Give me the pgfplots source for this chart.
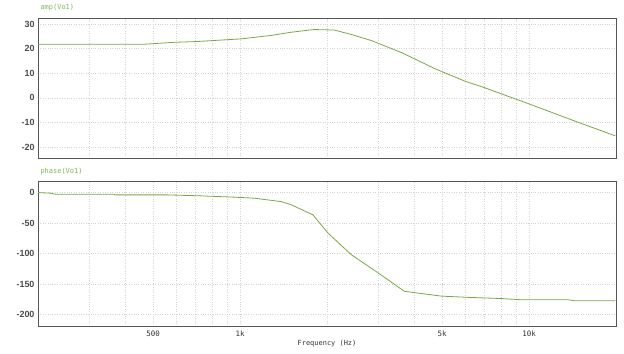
\documentclass[border=0pt]{standalone}
\usepackage{pgfplots}
\pgfplotsset{compat=1.18}
\usepackage{fontspec}
\setmainfont{Liberation Sans}
\setmonofont{DejaVu Sans Mono}
\definecolor{curve}{RGB}{120,168,70}
\definecolor{ttl}{RGB}{130,180,90}
\definecolor{frame}{RGB}{85,85,85}
\definecolor{gridc}{RGB}{212,212,212}
\begin{document}
\begin{tikzpicture}
\path[use as bounding box] (0bp,0bp) rectangle (624bp,354bp);
% top axis
\begin{axis}[
  scale only axis,
  xmode=log,
  xmin=200, xmax=20000,
  width=578bp,
  axis line style={frame, line width=0.9pt},
  major tick length=0pt, minor tick length=0pt,
  grid=both,
  major grid style={gridc, dotted, line width=0.6pt},
  minor grid style={gridc, dotted, line width=0.6pt},
  xtick={500,1000,5000,10000},
  minor xtick={300,400,600,700,800,900,2000,3000,4000,6000,7000,8000,9000,20000},
  yticklabel style={font=\fontsize{9}{10}\selectfont\bfseries, text=black!70},
  /pgf/number format/assume math mode=true,
  at={(38bp,196bp)}, anchor=south west,
  height=140bp,
  ymin=-24.5, ymax=32.5,
  ytick={-20,-10,0,10,20,30},
  xticklabels={},
]
\addplot[curve, line width=0.8pt] coordinates {
(200,21.8) (464,21.8) (590,22.6) (703,22.9) (800,23.3) (1008,24.0)
(1281,25.4) (1503,26.7) (1738,27.6) (1808,27.8) (2120,27.6) (2427,25.8)
(2849,23.3) (3625,18.4) (4718,11.9) (5995,6.8) (6870,4.5) (9700,-1.9)
(14900,-10.1) (19900,-15.5)
};
\end{axis}
% bottom axis
\begin{axis}[
  scale only axis,
  xmode=log,
  xmin=200, xmax=20000,
  width=578bp,
  axis line style={frame, line width=0.9pt},
  major tick length=0pt, minor tick length=0pt,
  grid=both,
  major grid style={gridc, dotted, line width=0.6pt},
  minor grid style={gridc, dotted, line width=0.6pt},
  xtick={500,1000,5000,10000},
  minor xtick={300,400,600,700,800,900,2000,3000,4000,6000,7000,8000,9000,20000},
  yticklabel style={font=\fontsize{9}{10}\selectfont\bfseries, text=black!70},
  /pgf/number format/assume math mode=true,
  at={(38bp,28bp)}, anchor=south west,
  height=145bp,
  ymin=-219, ymax=19,
  ytick={-200,-150,-100,-50,0},
  xticklabels={500,1k,5k,10k},
  xticklabel style={font=\ttfamily\fontsize{7.5}{8}\selectfont, text=black!80, yshift=-1bp},
]
\addplot[curve, line width=0.8pt] coordinates {
(200,0) (221,-1) (229,-2.6) (365,-2.6) (371,-3.8) (562,-3.8) (732,-5.4)
(953,-7.5) (1118,-9.2) (1388,-14.8) (1503,-20) (1788,-36.6) (2016,-66.6)
(2427,-102) (3010,-132) (3700,-162) (4983,-170) (6175,-172) (8058,-174)
(9452,-176) (13700,-176) (14400,-177.6) (19900,-177.6)
};
\end{axis}
\node[anchor=west, text=ttl, font=\ttfamily\fontsize{7}{8}\selectfont] at (37bp,346bp) {amp(Vo1)};
\node[anchor=west, text=ttl, font=\ttfamily\fontsize{7}{8}\selectfont] at (37bp,182bp) {phase(Vo1)};
\node[text=black!80, font=\ttfamily\fontsize{7}{8}\selectfont] at (327bp,10bp) {Frequency (Hz)};
\end{tikzpicture}
\end{document}
